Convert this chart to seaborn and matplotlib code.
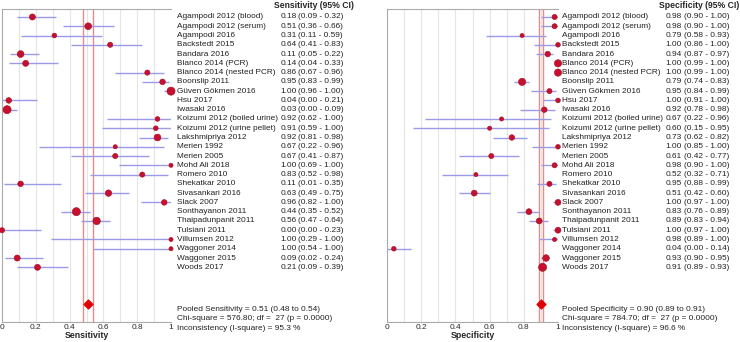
import matplotlib
matplotlib.use("Agg")
import matplotlib.pyplot as plt
import seaborn as sns
import pandas as pd

sns.set_style("white")
plt.rcParams['font.family'] = ['Liberation Sans', 'DejaVu Sans']

studies = ["Agampodi 2012 (blood)", "Agampodi 2012 (serum)", "Agampodi 2016", "Backstedt 2015",
           "Bandara 2016", "Blanco 2014 (PCR)", "Blanco 2014 (nested PCR)", "Boonslip 2011",
           "Güven Gökmen 2016", "Hsu 2017", "Iwasaki 2016", "Koizumi 2012 (boiled urine)",
           "Koizumi 2012 (urine pellet)", "Lakshmipriya 2012", "Merien 1992", "Merien 2005",
           "Mohd Ali 2018", "Romero 2010", "Shekatkar 2010", "Sivasankari 2016", "Slack 2007",
           "Sonthayanon 2011", "Thaipadunpanit 2011", "Tulsiani 2011", "Villumsen 2012",
           "Waggoner 2014", "Waggoner 2015", "Woods 2017"]

sens = [0.18, 0.51, 0.31, 0.64, 0.11, 0.14, 0.86, 0.95, 1.00, 0.04, 0.03, 0.92, 0.91, 0.92,
        0.67, 0.67, 1.00, 0.83, 0.11, 0.63, 0.96, 0.44, 0.56, 0.00, 1.00, 1.00, 0.09, 0.21]
sens_lo = [0.09, 0.36, 0.11, 0.41, 0.05, 0.04, 0.67, 0.83, 0.96, 0.00, 0.00, 0.62, 0.59, 0.81,
           0.22, 0.41, 0.69, 0.52, 0.01, 0.49, 0.82, 0.35, 0.47, 0.00, 0.29, 0.54, 0.02, 0.09]
sens_hi = [0.32, 0.66, 0.59, 0.83, 0.22, 0.33, 0.96, 0.99, 1.00, 0.21, 0.09, 1.00, 1.00, 0.98,
           0.96, 0.87, 1.00, 0.98, 0.35, 0.75, 1.00, 0.52, 0.64, 0.23, 1.00, 1.00, 0.24, 0.39]
# relative study weights (marker size)
sens_w = [4, 5, 2.5, 3, 5, 4, 3, 3.5, 7, 3.5, 7, 2.5, 2.5, 5, 2, 3, 2, 3, 3.5, 4.5, 3.5,
          7, 6, 3, 2, 2, 4, 4]

spec = [0.98, 0.98, 0.79, 1.00, 0.94, 1.00, 1.00, 0.79, 0.95, 1.00, 0.92, 0.67, 0.60, 0.73,
        1.00, 0.61, 0.98, 0.52, 0.95, 0.51, 1.00, 0.83, 0.89, 1.00, 0.98, 0.04, 0.93, 0.91]
spec_lo = [0.90, 0.90, 0.58, 0.86, 0.87, 0.99, 0.99, 0.74, 0.84, 0.91, 0.78, 0.22, 0.15, 0.62,
           0.85, 0.42, 0.90, 0.32, 0.88, 0.42, 0.97, 0.76, 0.83, 0.97, 0.89, 0.00, 0.90, 0.89]
spec_hi = [1.00, 1.00, 0.93, 1.00, 0.97, 1.00, 1.00, 0.83, 0.99, 1.00, 0.98, 0.96, 0.95, 0.82,
           1.00, 0.77, 1.00, 0.71, 0.99, 0.60, 1.00, 0.89, 0.94, 1.00, 1.00, 0.14, 0.95, 0.93]
spec_w = [3, 3, 2, 2.5, 3.5, 6, 6, 6, 3, 2.5, 3.5, 2, 2, 3.5, 2.5, 3, 3, 2, 3, 4, 4, 4,
          4, 4, 2, 2.5, 5, 7.5]

pooled_sens = (0.51, 0.48, 0.54)
pooled_spec = (0.90, 0.89, 0.91)
sens_stats = ["Pooled Sensitivity = 0.51 (0.48 to 0.54)",
              "Chi-square = 576.80; df =  27 (p = 0.0000)",
              "Inconsistency (I-square) = 95.3 %"]
spec_stats = ["Pooled Specificity = 0.90 (0.89 to 0.91)",
              "Chi-square = 784.70; df =  27 (p = 0.0000)",
              "Inconsistency (I-square) = 96.6 %"]

fig = plt.figure(figsize=(7.4, 3.42), dpi=100)
ax1 = fig.add_axes([2 / 740, 1 - 322 / 342, 169 / 740, 313 / 342])
ax2 = fig.add_axes([387 / 740, 1 - 322 / 342, 171 / 740, 313 / 342])

fs = 5.95


def forest(ax, est, lo, hi, w, pooled, stats, label, xname, xval, xci):
    df = pd.DataFrame({"study": studies, "est": est, "lo": lo, "hi": hi, "w": w})
    df["row"] = range(len(df))
    for x in [i / 10 for i in range(1, 10)]:
        ax.axvline(x, color="#e4e4e4", lw=0.8, zorder=0)
    ax.axvline(pooled[1], color="#e88a8a", lw=1, zorder=1)
    ax.axvline(pooled[2], color="#e88a8a", lw=1, zorder=1)
    ax.hlines(df["row"], df["lo"], df["hi"], color="#9a9ae6", lw=1, zorder=2)
    sns.scatterplot(data=df, x="est", y="row", size="w", sizes=(9, 34), color="#c8102e",
                    edgecolor="#9a0c22", linewidth=0.4, legend=False, ax=ax, zorder=3,
                    clip_on=False)
    ax.scatter([pooled[0]], [31], marker="D", s=20, color="#e00000", zorder=4, clip_on=False)

    for i, r in df.iterrows():
        ax.text(xname, r["row"], r["study"], fontsize=fs, va="center", color="#222")
        ax.text(xval, r["row"], f"{r['est']:.2f}", fontsize=fs, va="center", color="#222")
        ax.text(xci, r["row"], f"({r['lo']:.2f} - {r['hi']:.2f})", fontsize=fs, va="center",
                color="#222")
    ax.text(xval - 0.04, -1.25, label + " (95% CI)", fontsize=6.2, fontweight="bold",
            va="center")
    for k, s in enumerate(stats):
        ax.text(xname, 31.5 + k * 1.05, s, fontsize=fs, va="center", color="#222",
                clip_on=False)

    ax.set_xlim(0, 1)
    ax.set_ylim(32.9, -0.86)
    ax.set_xticks([0, 0.2, 0.4, 0.6, 0.8, 1])
    ax.set_xticklabels(["0", "0.2", "0.4", "0.6", "0.8", "1"], fontsize=fs)
    ax.tick_params(axis="x", length=0, pad=1.5)
    ax.set_yticks([])
    ax.set_ylabel("")
    ax.set_xlabel(label, fontsize=6.3, fontweight="bold", labelpad=0)
    ax.spines["right"].set_visible(False)
    for s in ["left", "top", "bottom"]:
        ax.spines[s].set_color("#aaaaaa")
        ax.spines[s].set_linewidth(0.8)


forest(ax1, sens, sens_lo, sens_hi, sens_w, pooled_sens, sens_stats, "Sensitivity",
       1.036, 1.648, 1.754)
forest(ax2, spec, spec_lo, spec_hi, spec_w, pooled_spec, spec_stats, "Specificity",
       1.023, 1.629, 1.734)

fig.savefig("out.png", dpi=100)
